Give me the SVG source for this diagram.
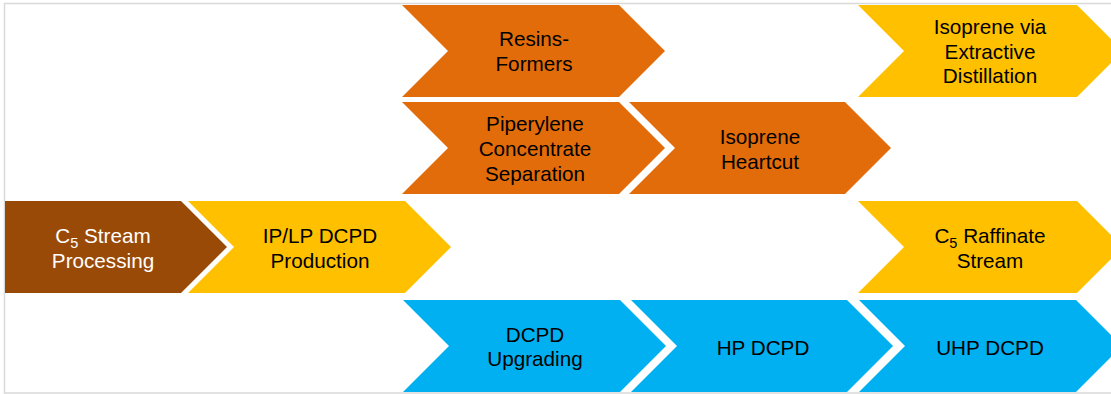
<svg xmlns="http://www.w3.org/2000/svg" width="1111" height="394" viewBox="0 0 1111 394">
<style>
.t{font-family:"Liberation Sans",Arial,sans-serif;font-size:20.7px;text-anchor:middle;fill:#000}
.w{fill:#fff}
.brown{fill:#9A4A07}
.orange{fill:#E36C0A}
.gold{fill:#FFC000}
.cyan{fill:#00B0F0}
</style>
<rect x="0" y="0" width="1111" height="394" fill="#fff"/>
<path d="M1111 3.5H4.5V393H1111" fill="none" stroke="#D9D9D9" stroke-width="1.5"/>
<g id="resins-formers"><polygon class="orange" points="402,5 619,5 665,51 619,97 402,97 448,51"/><text class="t" x="534" y="46">Resins-</text><text class="t" x="534" y="71">Formers</text></g>
<g id="isoprene-extractive"><polygon class="gold" points="858,5 1077,5 1123,51 1077,97 858,97 904,51"/><text class="t" x="990" y="34">Isoprene via</text><text class="t" x="990" y="58.5">Extractive</text><text class="t" x="990" y="83">Distillation</text></g>
<g id="piperylene"><polygon class="orange" points="402,102 619,102 665,148 619,194 402,194 448,148"/><text class="t" x="535" y="131">Piperylene</text><text class="t" x="535" y="156">Concentrate</text><text class="t" x="535" y="181">Separation</text></g>
<g id="isoprene-heartcut"><polygon class="orange" points="629,102 845,102 891,148 845,194 629,194 675,148"/><text class="t" x="760" y="144">Isoprene</text><text class="t" x="760" y="168.5">Heartcut</text></g>
<g id="c5-stream"><polygon class="brown" points="5,201 181,201 227,247 181,293 5,293"/><text class="t w" x="103" y="243">C<tspan font-size="14.5" dy="5">5</tspan><tspan dy="-5"> Stream</tspan></text><text class="t w" x="103" y="268">Processing</text></g>
<g id="ip-lp-dcpd"><polygon class="gold" points="188,201 405,201 451,247 405,293 188,293 234,247"/><text class="t" x="320" y="243">IP/LP DCPD</text><text class="t" x="320" y="268">Production</text></g>
<g id="c5-raffinate"><polygon class="gold" points="858,201 1077,201 1123,247 1077,293 858,293 904,247"/><text class="t" x="990" y="243">C<tspan font-size="14.5" dy="5">5</tspan><tspan dy="-5"> Raffinate</tspan></text><text class="t" x="990" y="267.5">Stream</text></g>
<g id="dcpd-upgrading"><polygon class="cyan" points="403,300 620,300 666,346 620,392 403,392 449,346"/><text class="t" x="535" y="342">DCPD</text><text class="t" x="535" y="366">Upgrading</text></g>
<g id="hp-dcpd"><polygon class="cyan" points="631,300 847,300 893,346 847,392 631,392 677,346"/><text class="t" x="763" y="355">HP DCPD</text></g>
<g id="uhp-dcpd"><polygon class="cyan" points="859,300 1076,300 1122,346 1076,392 859,392 905,346"/><text class="t" x="990" y="355">UHP DCPD</text></g>
<g id="connectors"></g>
</svg>
